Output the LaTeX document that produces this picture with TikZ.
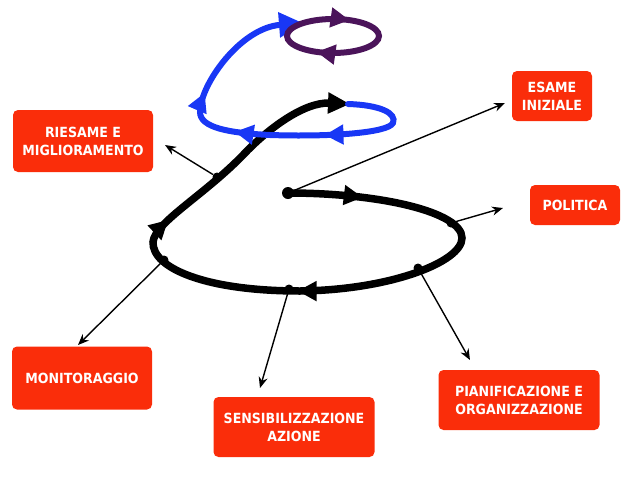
\documentclass[tikz,border=0pt]{standalone}
\usepackage{fontspec}
\setmainfont{DejaVu Sans Condensed}
\usetikzlibrary{arrows.meta,decorations.markings}

\definecolor{boxred}{RGB}{250,45,10}
\definecolor{loopblue}{RGB}{25,55,245}
\definecolor{loopviolet}{RGB}{75,20,90}

\tikzset{
  stagebox/.style={fill=boxred, rounded corners=5pt, text=white, align=center,
    inner sep=0pt, font=\bfseries\fontsize{14}{18}\selectfont},
  pointer/.style={-{Stealth[length=11pt,width=9pt]}, line width=1.4pt},
  arrowat/.style={postaction={decorate, decoration={markings,
    mark=at position #1 with {\arrow{Triangle[length=19pt,width=19pt]}}}}},
  spiral/.style={line width=7.5pt, line cap=round},
}

\begin{document}
\begin{tikzpicture}[x=1pt,y=-1pt]
        \useasboundingbox (0,0) rectangle (630,480);

        \begin{scope}[every node/.style={stagebox}]
          \node[minimum width=140pt, minimum height=62pt] (riesame)  at (83,141)  {RIESAME E\\MIGLIORAMENTO};
          \node[minimum width=140pt, minimum height=63pt] (monitor)  at (82,378)  {MONITORAGGIO};
          \node[minimum width=161pt, minimum height=60pt] (sensib)   at (294,427) {SENSIBILIZZAZIONE\\AZIONE};
          \node[minimum width=161pt, minimum height=60pt] (pianif)   at (519,400) {PIANIFICAZIONE E\\ORGANIZZAZIONE};
          \node[minimum width=80pt,  minimum height=50pt] (esame)    at (552,96)  {ESAME\\INIZIALE};
          \node[minimum width=90pt,  minimum height=40pt] (politica) at (575,205) {POLITICA};
        \end{scope}

        % black spiral
        \draw[spiral, -{Triangle[length=22pt,width=20pt]},
              arrowat=75pt, arrowat=368pt, arrowat=558pt]
          (288,193) .. controls (380,193) and (462,212) .. (462,238)
                    .. controls (462,262) and (390,290) .. (300,291)
                    .. controls (205,291) and (152,268) .. (153,242)
                    .. controls (155,222) and (205,195) .. (245,153)
                    .. controls (270,127) and (305,102) .. (350,104);

        % blue loop
        \draw[loopblue, line width=6pt, line cap=round, -{Triangle[length=24pt,width=24pt]},
              arrowat=125pt, arrowat=215pt, arrowat=278pt]
          (348,104) .. controls (380,105) and (397,113) .. (393,123)
                    .. controls (388,133) and (330,137) .. (270,135)
                    .. controls (230,133) and (200,128) .. (200,112)
                    .. controls (200,85) and (240,28) .. (303,23);

        % violet loop
        \draw[loopviolet, line width=6pt, arrowat=0.33, arrowat=0.83]
          (333,36) ellipse [x radius=46, y radius=17];

        \begin{scope}[every node/.style={circle, fill=black, inner sep=0pt}]
          \node[minimum size=12pt] (d0) at (288,193) {};
          \node[minimum size=9pt]  (d1) at (451,223) {};
          \node[minimum size=9pt]  (d2) at (418,268) {};
          \node[minimum size=9pt]  (d3) at (289,289) {};
          \node[minimum size=9pt]  (d4) at (164,260) {};
          \node[minimum size=9pt]  (d5) at (217,177) {};
        \end{scope}

        \coordinate (t0) at (505,103);
        \coordinate (t1) at (503,208);
        \coordinate (t2) at (470,360);
        \coordinate (t3) at (260,388);
        \coordinate (t4) at (78,345);
        \coordinate (t5) at (165,145);

        \begin{scope}[every path/.style={pointer}]
          \draw (d0) -- (t0);
          \draw (d1) -- (t1);
          \draw (d2) -- (t2);
          \draw (d3) -- (t3);
          \draw (d4) -- (t4);
          \draw (d5) -- (t5);
        \end{scope}

      \end{tikzpicture}
\end{document}
